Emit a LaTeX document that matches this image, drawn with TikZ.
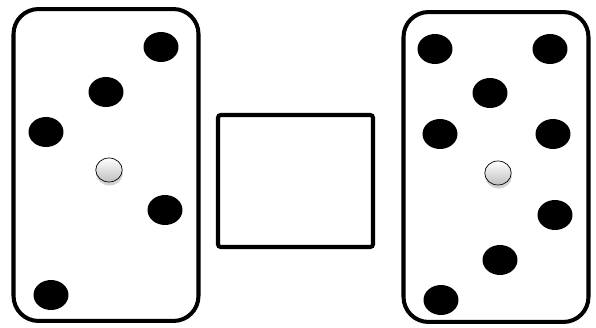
\documentclass[tikz,border=0pt]{standalone}
\usetikzlibrary{shapes.geometric,shadows}

\begin{document}
\begin{tikzpicture}[x=0.02cm,y=-0.02cm,
    panel/.style={draw,line width=2.3pt,rounded corners=0.5cm,inner sep=0},
    blackdot/.style={ellipse,fill=black,inner sep=0,minimum width=0.7cm,minimum height=0.6cm},
    greydot/.style={ellipse,draw,thin,inner sep=0,minimum width=0.53cm,minimum height=0.48cm,
      top color=white,bottom color=black!25,
      drop shadow={shadow xshift=0.3pt,shadow yshift=-2pt,opacity=0.35}}]
\useasboundingbox (0,0) rectangle (596,328);
% left panel
\node[panel,minimum width=3.7cm,minimum height=6.24cm] (leftbox) at (106,165) {};
\node[blackdot] (l1) at (161,47) {};
\node[blackdot] (l2) at (106,92) {};
\node[blackdot] (l3) at (46,132) {};
\node[blackdot] (l4) at (165,210) {};
\node[blackdot] (l5) at (51,295) {};
\node[greydot] (lc) at (109,170) {};
% middle box
\node[panel,rounded corners=1.5pt,minimum width=3.1cm,minimum height=2.64cm] (midbox) at (295.5,181) {};
% right panel
\node[panel,minimum width=3.7cm,minimum height=6.2cm] (rightbox) at (496,167) {};
\node[blackdot] (r1) at (435,49) {};
\node[blackdot] (r2) at (550,49) {};
\node[blackdot] (r3) at (490,93) {};
\node[blackdot] (r4) at (440,134) {};
\node[blackdot] (r5) at (553,134) {};
\node[blackdot] (r6) at (555,215) {};
\node[blackdot] (r7) at (500,260) {};
\node[blackdot] (r8) at (441,300) {};
\node[greydot] (rc) at (498,173) {};
\end{tikzpicture}
\end{document}
